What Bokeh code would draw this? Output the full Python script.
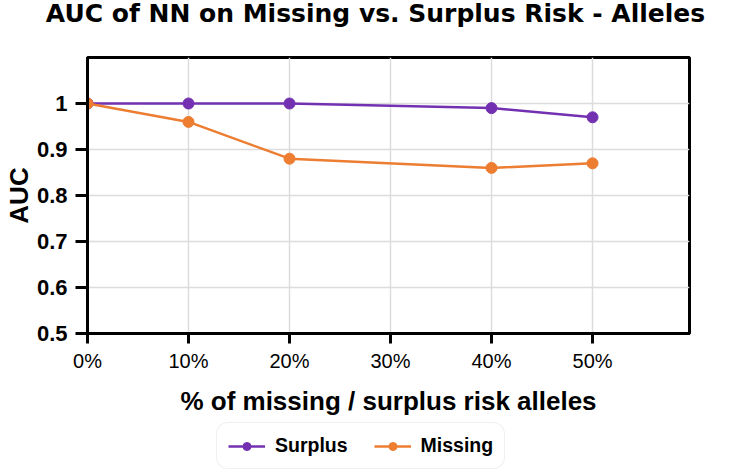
from bokeh.plotting import figure
from bokeh.layouts import column
from bokeh.models import Legend, LegendItem, FixedTicker, Range1d
from bokeh.core.properties import value
from bokeh.embed import file_html
from bokeh.resources import INLINE

# share of risk alleles removed / added (percent)
pct = [0, 10, 20, 40, 50]
surplus_auc = [1.00, 1.00, 1.00, 0.99, 0.97]
missing_auc = [1.00, 0.96, 0.88, 0.86, 0.87]

x_ticks = [0, 10, 20, 30, 40, 50]
x_tick_labels = ["0%", "10%", "20%", "30%", "40%", "50%"]
y_ticks = [0.5, 0.6, 0.7, 0.8, 0.9, 1.0]
y_tick_labels = ["0.5", "0.6", "0.7", "0.8", "0.9", "1"]
series_names = ["Surplus", "Missing"]
series_values = [surplus_auc, missing_auc]

title_text = "AUC of NN on Missing vs. Surplus Risk - Alleles"
x_label = "% of missing / surplus risk alleles"
y_label = "AUC"

PURPLE = "#7331B2"
ORANGE = "#ED7D31"
COLORS = [PURPLE, ORANGE]
FONT = "Liberation Sans"
TITLE_FONT = "DejaVu Sans"
W = 742
HEAD_H = 32
FRAME_TOP = 57
FRAME_H = 276
CHART_BOTTOM = 81
FOOT_H = 470 - FRAME_TOP - FRAME_H - CHART_BOTTOM


def strip(fig):
    """Plain white strip used for the heading and the footer."""
    fig.outline_line_color = None
    fig.background_fill_color = "white"
    fig.border_fill_color = "white"
    fig.grid.visible = False
    if "frame_align" in fig.properties():
        fig.frame_align = False
    return fig


# ---- heading --------------------------------------------------------------
head = strip(figure(
    width=W, height=HEAD_H, min_border=0,
    x_range=Range1d(0, W), y_range=Range1d(HEAD_H, 0),
    x_axis_type=None, y_axis_type=None,
    output_backend="svg", toolbar_location=None,
))
head.text(x=[375], y=[13], text=[title_text],
          text_align="center", text_baseline="middle",
          text_font=value(TITLE_FONT), text_font_size="25px",
          text_font_style="bold", text_color="black")

# ---- main chart -----------------------------------------------------------
p = figure(
    frame_width=602, frame_height=FRAME_H,
    min_border_left=85, min_border_right=55,
    min_border_top=FRAME_TOP - HEAD_H, min_border_bottom=CHART_BOTTOM,
    x_range=Range1d(0, 59.6), y_range=Range1d(0.5, 1.1),
    output_backend="svg", toolbar_location=None,
)
p.background_fill_color = "white"
p.border_fill_color = "white"
p.outline_line_color = "black"
p.outline_line_width = 3
if "frame_align" in p.properties():
    p.frame_align = False

p.xaxis.ticker = FixedTicker(ticks=x_ticks)
p.xaxis.major_label_overrides = dict(zip(x_ticks, x_tick_labels))
p.yaxis.ticker = FixedTicker(ticks=y_ticks)
p.yaxis.major_label_overrides = dict(zip(y_ticks, y_tick_labels))
for ax in (p.xaxis, p.yaxis):
    ax.axis_line_color = "black"
    ax.axis_line_width = 3
    ax.major_tick_line_color = "black"
    ax.major_tick_line_width = 3
    ax.major_tick_in = 0
    ax.minor_tick_line_color = None
    ax.major_label_text_font = FONT
    ax.major_label_text_color = "black"
    ax.axis_label_text_font = FONT
    ax.axis_label_text_font_style = "bold"
    ax.axis_label_text_color = "black"

p.xaxis.major_tick_out = 10
p.xaxis.major_label_standoff = 6
p.xaxis.major_label_text_font_size = "20px"
p.xaxis.axis_label = x_label
p.xaxis.axis_label_text_font_size = "26px"
p.xaxis.axis_label_standoff = 11

p.yaxis.major_tick_out = 12
p.yaxis.major_label_standoff = 8
p.yaxis.major_label_text_font_size = "22px"
p.yaxis.major_label_text_font_style = "bold"
p.yaxis.axis_label = y_label
p.yaxis.axis_label_text_font_size = "26px"
p.yaxis.axis_label_standoff = 0

p.xgrid.ticker = FixedTicker(ticks=x_ticks[1:])
p.ygrid.ticker = FixedTicker(ticks=y_ticks[1:])
for g in (p.xgrid, p.ygrid):
    g.grid_line_color = "#dcdcdc"
    g.grid_line_width = 1.5

for vals, color in zip(series_values, COLORS):
    p.line(pct, vals, line_color=color, line_width=2.5)
    p.scatter(pct, vals, size=11, fill_color=color, line_color=color)

# ---- footer: legend ---------------------------------------------------------
foot = strip(figure(
    width=W, height=FOOT_H, min_border=0,
    x_range=Range1d(0, W), y_range=Range1d(FOOT_H, 0),
    x_axis_type=None, y_axis_type=None,
    output_backend="svg", toolbar_location=None,
))

# legend swatches: hidden copies of the series, styled like the chart
items = []
for name, vals, color in zip(series_names, series_values, COLORS):
    ln = foot.line(pct, vals, line_color=color, line_width=2.5, visible=False)
    sc = foot.scatter(pct, vals, size=11, fill_color=color, line_color=color,
                      visible=False)
    items.append(LegendItem(label=name, renderers=[ln, sc]))

legend = Legend(
    items=items,
    orientation="horizontal",
    location=(216, 5),
    label_text_font=FONT,
    label_text_font_size="19.5px",
    label_text_font_style="bold",
    label_text_color="black",
    glyph_width=37, glyph_height=20,
    label_standoff=10, spacing=26,
    padding=11, margin=0,
    border_line_color="#e6e2da", border_line_width=1.5,
    background_fill_color="white", background_fill_alpha=1,
)
if "border_radius" in Legend.properties():
    legend.border_radius = 12
foot.add_layout(legend, "center")

layout = column(head, p, foot, spacing=0)
open("out.html", "w").write(file_html(layout, INLINE))
